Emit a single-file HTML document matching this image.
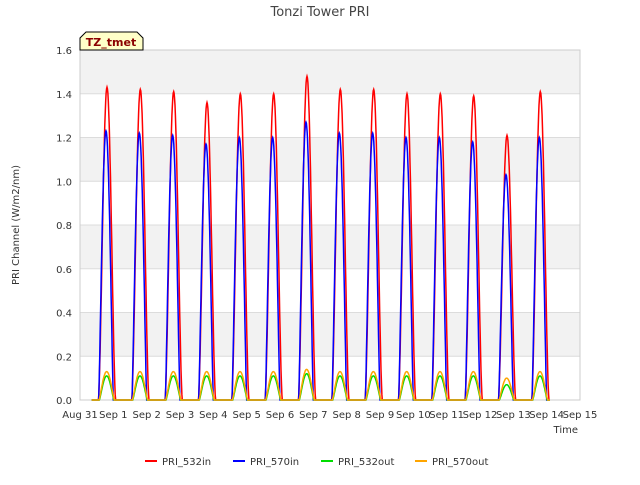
<!DOCTYPE html>
<html><head><meta charset="utf-8"><style>
body{margin:0;background:#fff;font-family:"Liberation Sans","DejaVu Sans",sans-serif}
</style></head><body>
<svg id="c" width="640" height="480" xmlns="http://www.w3.org/2000/svg" font-family="DejaVu Sans, Liberation Sans, sans-serif">
<rect width="640" height="480" fill="#fff"/>
<text x="320" y="16" text-anchor="middle" font-size="13" fill="#444">Tonzi Tower PRI</text>
<g id="plot"></g>
</svg>
<script>
const dayLabels=["Aug 31","Sep 1","Sep 2","Sep 3","Sep 4","Sep 5","Sep 6","Sep 7","Sep 8","Sep 9","Sep 10","Sep 11","Sep 12","Sep 13","Sep 14","Sep 15"];
const yTicks=[0,0.2,0.4,0.6,0.8,1.0,1.2,1.4,1.6];
const peak532in=[1.43,1.42,1.41,1.36,1.40,1.40,1.48,1.42,1.42,1.40,1.40,1.39,1.21,1.41];
const peak570in=[1.23,1.22,1.21,1.17,1.20,1.20,1.27,1.22,1.22,1.20,1.20,1.18,1.03,1.20];
const peak532out=[0.11,0.11,0.11,0.11,0.11,0.11,0.12,0.11,0.11,0.11,0.11,0.11,0.07,0.11];
const peak570out=[0.13,0.13,0.13,0.13,0.13,0.13,0.14,0.13,0.13,0.13,0.13,0.13,0.10,0.13];
const L=80,R=580,T=50,B=400;
const xs=d=>L+(d/15)*(R-L);
const ys=v=>B-(v/1.6)*(B-T);
const NS="http://www.w3.org/2000/svg";
const g=document.getElementById('plot');
function mk(t,a,p){const e=document.createElementNS(NS,t);for(const k in a)e.setAttribute(k,a[k]);(p||g).appendChild(e);return e;}
// bands
for(let i=0;i<8;i++){if(i%2===1){const r=mk('rect',{x:L,y:ys(yTicks[i+1]),width:R-L,height:ys(yTicks[i])-ys(yTicks[i+1]),fill:'#f2f2f2'});

}}
yTicks.forEach(v=>{const l=mk('line',{x1:L,x2:R,y1:ys(v),y2:ys(v),stroke:'#dcdcdc','stroke-width':1});


const t=mk('text',{x:L-8,y:ys(v)+4,'text-anchor':'end','font-size':10,fill:'#333'});t.textContent=v.toFixed(1);

});
const ax=mk('rect',{x:L,y:T,width:R-L,height:B-T,fill:'none',stroke:'#ccc'});


dayLabels.forEach((s,i)=>{const t=mk('text',{x:xs(i),y:B+18,'text-anchor':'middle','font-size':10,fill:'#333'});t.textContent=s;

});
const xt=mk('text',{x:578,y:433,'text-anchor':'end','font-size':10,fill:'#333'});xt.textContent='Time';


const yt=mk('text',{x:19,y:225,'text-anchor':'middle','font-size':10,fill:'#333',transform:'rotate(-90 19 225)'});yt.textContent='PRI Channel (W/m2/nm)';


function series(peaks,color,name,t0,t1,pw){
 let pts=[[xs(0.35),ys(0)]];
 peaks.forEach((p,i)=>{
  pts.push([xs(i+t0),ys(0)]);
  for(let k=0;k<=40;k++){const f=k/40;const v=p*Math.pow(Math.sin(Math.PI*f),pw);pts.push([xs(i+t0+f*(t1-t0)),ys(v)]);}
  pts.push([xs(i+t1),ys(0)]);
 });
 pts.push([xs(14.1),ys(0)]);
 const pl=mk('polyline',{points:pts.map(p=>p[0].toFixed(1)+','+p[1].toFixed(1)).join(' '),fill:'none',stroke:color,'stroke-width':1.5});
 
 
}
series(peak532in,'#ff0000','series-pri-532in',0.55,1.07,1.6);
series(peak570in,'#0000ff','series-pri-570in',0.56,1.0,1.2);
series(peak532out,'#00dd00','series-pri-532out',0.58,1.02,1.2);
series(peak570out,'#ffa500','series-pri-570out',0.57,1.03,1.2);
// badge
const bg=mk('path',{d:'M80,50 L80,38 L86,32 L137,32 L143,38 L143,50 Z',fill:'#ffffc8',stroke:'#000','stroke-width':1});


const bt=mk('text',{x:111,y:46,'text-anchor':'middle','font-size':11,'font-weight':'bold',fill:'#8b0000'});bt.textContent='TZ_tmet';


// legend
const leg=[['PRI_532in','#ff0000',145],['PRI_570in','#0000ff',233],['PRI_532out','#00dd00',321],['PRI_570out','#ffa500',415]];
leg.forEach(([n,c,x])=>{
 const l=mk('line',{x1:x,x2:x+12,y1:461,y2:461,stroke:c,'stroke-width':2});
 
 
 const t=mk('text',{x:x+17,y:465,'font-size':10,fill:'#333'});t.textContent=n;
 
 
});
</script>
</body></html>
